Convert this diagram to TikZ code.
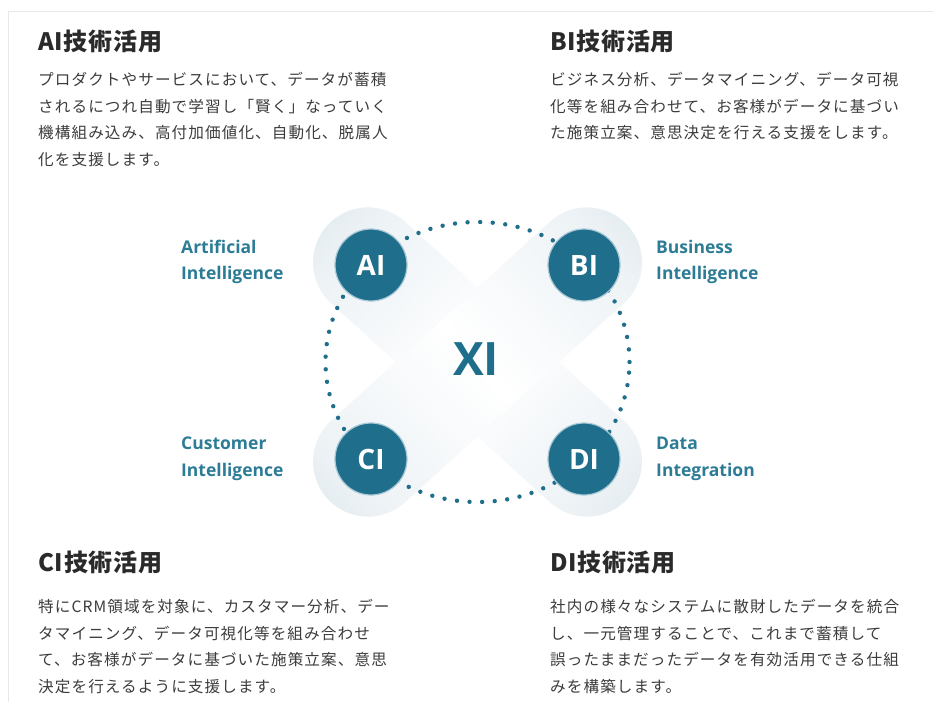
\documentclass[tikz,border=0pt]{standalone}
\usepackage{fontspec}
\setmainfont{Open Sans}
\newfontfamily\jp{Noto Sans CJK JP}
\newfontfamily\jptitle[LetterSpace=3]{Noto Sans CJK JP}
\newfontfamily\jpbody[LetterSpace=7]{Noto Sans CJK JP}
\definecolor{circ}{HTML}{1F6E8C}
\definecolor{circedge}{HTML}{A9C9D6}
\definecolor{lbl}{HTML}{2D7C96}
\definecolor{halo}{HTML}{D8E3EA}
\definecolor{halomid}{HTML}{EEF3F6}
\definecolor{ttl}{HTML}{2A2A2A}
\definecolor{body}{HTML}{3C3C3C}
\definecolor{frame}{HTML}{E8E8E8}
\pgfdeclarehorizontalshading{armshade}{100bp}{color(0bp)=(halo); color(16bp)=(halo); color(30bp)=(halomid); color(50bp)=(white); color(70bp)=(halomid); color(84bp)=(halo); color(100bp)=(halo)}
\tikzset{
  ball/.style={circle, fill=circ, draw=circedge, line width=1.2pt, text=white, minimum size=72pt, inner sep=0pt, font=\bfseries\fontsize{28}{28}\selectfont},
  tag/.style={text=lbl, align=left, anchor=west, inner sep=0pt, font=\bfseries\fontsize{17.5}{26.5}\selectfont},
  jtitle/.style={text=ttl, anchor=west, inner sep=0pt, font=\jptitle\bfseries\fontsize{24}{24}\selectfont},
  jbody/.style={text=body, align=left, anchor=north west, inner sep=0pt, font=\jpbody\fontsize{15.6}{26.6}\selectfont},
  ring/.style={circ, line width=4.4pt, dash pattern=on 0pt off 12.6pt, line cap=round}
}
\begin{document}
\begin{tikzpicture}[x=1pt, y=-1pt]
\useasboundingbox (0,0) rectangle (933,702);
\fill[white] (0,0) rectangle (933,702);
\draw[frame, line width=1pt] (8,702) -- (8,11) -- (933,11);
% X arms
\begin{scope}[transform canvas={shift={(477.5pt,-362pt)}, rotate=-42.3}]
  \shade[shading=armshade, rounded corners=55pt] (-203pt,-55pt) rectangle (203pt,55pt);
\end{scope}
\begin{scope}[transform canvas={shift={(477.5pt,-362pt)}, rotate=42.3}]
  \shade[shading=armshade, rounded corners=55pt] (-203pt,-55pt) rectangle (203pt,55pt);
\end{scope}
% dotted ring
\draw[ring] (477.5,362) ellipse [x radius=152pt, y radius=140pt];
% circles
\node[ball] (ai) at (371,265) {AI};
\node[ball] (bi) at (584,265) {BI};
\node[ball] (ci) at (371,459) {CI};
\node[ball] (di) at (584,459) {DI};
\node[text=circ, font=\bfseries\fontsize{46}{46}\selectfont] (xi) at (476,359) {XI};
% labels
\node[tag] (lai) at (181,262) {Artificial\\Intelligence};
\node[tag] (lbi) at (656,262) {Business\\Intelligence};
\node[tag] (lci) at (181,459) {Customer\\Intelligence};
\node[tag] (ldi) at (656,459) {Data\\Integration};
% texts
\node[jtitle] (tai) at (38,41) {AI技術活用};
\node[jtitle] (tbi) at (550,41) {BI技術活用};
\node[jtitle] (tci) at (38,562) {CI技術活用};
\node[jtitle] (tdi) at (550,562) {DI技術活用};
\node[jbody] (bai) at (38,72) {プロダクトやサービスにおいて、データが蓄積\\されるにつれ自動で学習し「賢く」なっていく\\機構組み込み、高付加価値化、自動化、脱属人\\化を支援します。};
\node[jbody] (bbi) at (550,72) {ビジネス分析、データマイニング、データ可視\\化等を組み合わせて、お客様がデータに基づい\\た施策立案、意思決定を行える支援をします。};
\node[jbody] (bci) at (38,599) {特にCRM領域を対象に、カスタマー分析、デー\\タマイニング、データ可視化等を組み合わせ\\て、お客様がデータに基づいた施策立案、意思\\決定を行えるように支援します。};
\node[jbody] (bdi) at (550,599) {社内の様々なシステムに散財したデータを統合\\し、一元管理することで、これまで蓄積して\\誤ったままだったデータを有効活用できる仕組\\みを構築します。};
\end{tikzpicture}
\end{document}
